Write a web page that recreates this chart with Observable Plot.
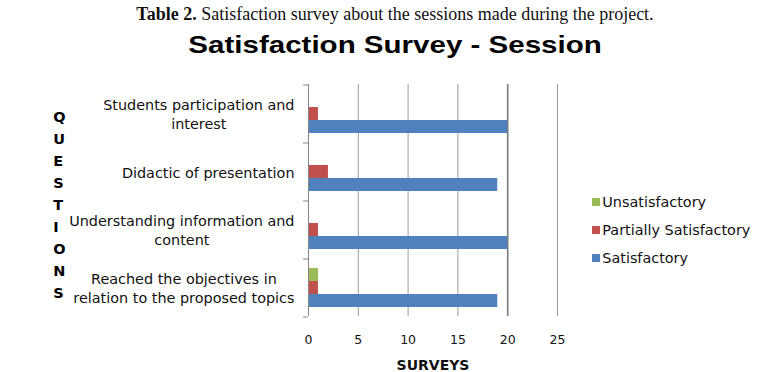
<!DOCTYPE html>
<html>
<head>
<meta charset="utf-8">
<script src="https://cdn.jsdelivr.net/npm/d3@7"></script>
<script src="https://cdn.jsdelivr.net/npm/@observablehq/plot@0.6"></script>
<style>
  html, body { margin: 0; padding: 0; background: #fff; }
  #wrap { position: relative; width: 772px; height: 372px; overflow: hidden; background: #fff; }
  .t1 { position: absolute; left: 9px; top: 4.5px; width: 772px; text-align: center;
        font-family: "Liberation Serif", "Times New Roman", serif; font-size: 18px; line-height: 18px; color: #111; white-space: nowrap; }
  .t2 { position: absolute; left: 9px; top: 32.7px; width: 772px; text-align: center; white-space: nowrap; }
  .t2 span { display: inline-block; transform: scaleX(1.23); transform-origin: center;
        font-family: "Liberation Sans", Arial, sans-serif; font-weight: bold; font-size: 24px; line-height: 24px; color: #000; }
  #chart { position: absolute; left: 0; top: 66px; }
  .leg { position: absolute; left: 591.7px; height: 20px; display: flex; align-items: center;
         font-family: "DejaVu Sans", sans-serif; font-size: 14.4px; color: #111; white-space: nowrap; }
  .leg i { display: inline-block; width: 8px; height: 8px; margin-right: 2.6px; }
</style>
</head>
<body>
<div id="wrap">
  <div class="t1"><b>Table 2.</b> Satisfaction survey about the sessions made during the project.</div>
  <div class="t2"><span>Satisfaction Survey - Session</span></div>
  <div id="chart"></div>
</div>
<script>
// ---- data ----
const questions = [
  "Students participation and\ninterest",
  "Didactic of presentation",
  "Understanding information and\ncontent",
  "Reached the objectives in\nrelation to the proposed topics"
];
const series = ["Unsatisfactory", "Partially Satisfactory", "Satisfactory"];
const unsatisfactory = [0, 0, 0, 1];
const partiallySatisfactory = [1, 2, 1, 1];
const satisfactory = [20, 19, 20, 19];
const seriesColors = ["#9bbb59", "#c0504d", "#4f81bd"];
const xTicks = [0, 5, 10, 15, 20, 25];
const xTitle = "SURVEYS";
const yTitle = "QUESTIONS";

const values = [unsatisfactory, partiallySatisfactory, satisfactory];
const data = questions.flatMap((q, i) => series.map((s, j) => ({q, s, v: values[j][i]})));

// ---- geometry ----
const W = 772, H = 306, mt = 16, mb = 55, ml = 308, mr = 215;
const padOuter = 0.7;
const bandH = (H - mt - mb) / questions.length;
const step = bandH / (series.length + 2 * padOuter);
const edgeOff = step * padOuter + step / 2;
const labelSize = 14.4;

// measure label widths for centred multi-line labels
const ctx = document.createElement("canvas").getContext("2d");
ctx.font = labelSize + "px 'DejaVu Sans'";
const labelDx = questions.map(q => {
  const w = Math.max(...q.split("\n").map(l => ctx.measureText(l).width));
  return -(14 + w / 2);
});

const labelMarks = questions.map((q, i) =>
  Plot.text([q], {fy: d => d, text: d => d, frameAnchor: "left", textAnchor: "middle",
    dx: labelDx[i], lineHeight: 19.5 / labelSize, fontSize: labelSize, fill: "#111"})
);

const chart = Plot.plot({
  width: W, height: H, marginTop: mt, marginBottom: mb, marginLeft: ml, marginRight: mr,
  style: {fontFamily: "'DejaVu Sans', sans-serif", fontSize: "12.5px", color: "#000", background: "transparent"},
  x: {domain: [0, 25], axis: null},
  y: {domain: series, paddingInner: 0, paddingOuter: padOuter, axis: null},
  fy: {domain: questions, padding: 0, axis: null},
  color: {domain: series, range: seriesColors},
  marks: [
    Plot.ruleX(xTicks.filter(t => t > 0 && t !== 20), {stroke: "#9a9a9a", strokeWidth: 1}),
    Plot.ruleX([20], {stroke: "#808080", strokeWidth: 1.7}),
    Plot.barX(data, {fy: "q", y: "s", x: "v", fill: "s"}),
    Plot.ruleX([0], {stroke: "#868686"}),
    Plot.ruleY(questions, {fy: d => d, y: () => series[0], x1: -0.5, x2: 0, dy: -edgeOff, stroke: "#868686"}),
    Plot.ruleY(questions.slice(-1), {fy: d => d, y: () => series[series.length - 1], x1: -0.5, x2: 0, dy: edgeOff, stroke: "#868686"}),
    Plot.axisX(xTicks, {anchor: "bottom", tickSize: 0, tickPadding: 19, fontSize: 12.5, label: null, fill: "#111"}),
    ...labelMarks,
    Plot.text([xTitle], {facet: "super", frameAnchor: "bottom", lineAnchor: "middle", dy: 49,
      fontSize: 14, fontWeight: "bold", fill: "#111"}),
    Plot.text([yTitle.split("").join("\n")], {facet: "super", frameAnchor: "left", lineAnchor: "middle",
      dx: -255.3, dy: 2.5, lineHeight: 1.52, fontSize: 14.5, fontWeight: "bold", fill: "#000"})
  ]
});
document.getElementById("chart").appendChild(chart);

// legend
const legendY = [201.7, 230, 258];
const wrap = document.getElementById("wrap");
series.forEach((s, i) => {
  const d = document.createElement("div");
  d.className = "leg";
  d.style.top = (legendY[i] - 10) + "px";
  const sw = document.createElement("i");
  sw.style.background = seriesColors[i];
  d.appendChild(sw);
  d.appendChild(document.createTextNode(s));
  wrap.appendChild(d);
});
</script>
</body>
</html>
